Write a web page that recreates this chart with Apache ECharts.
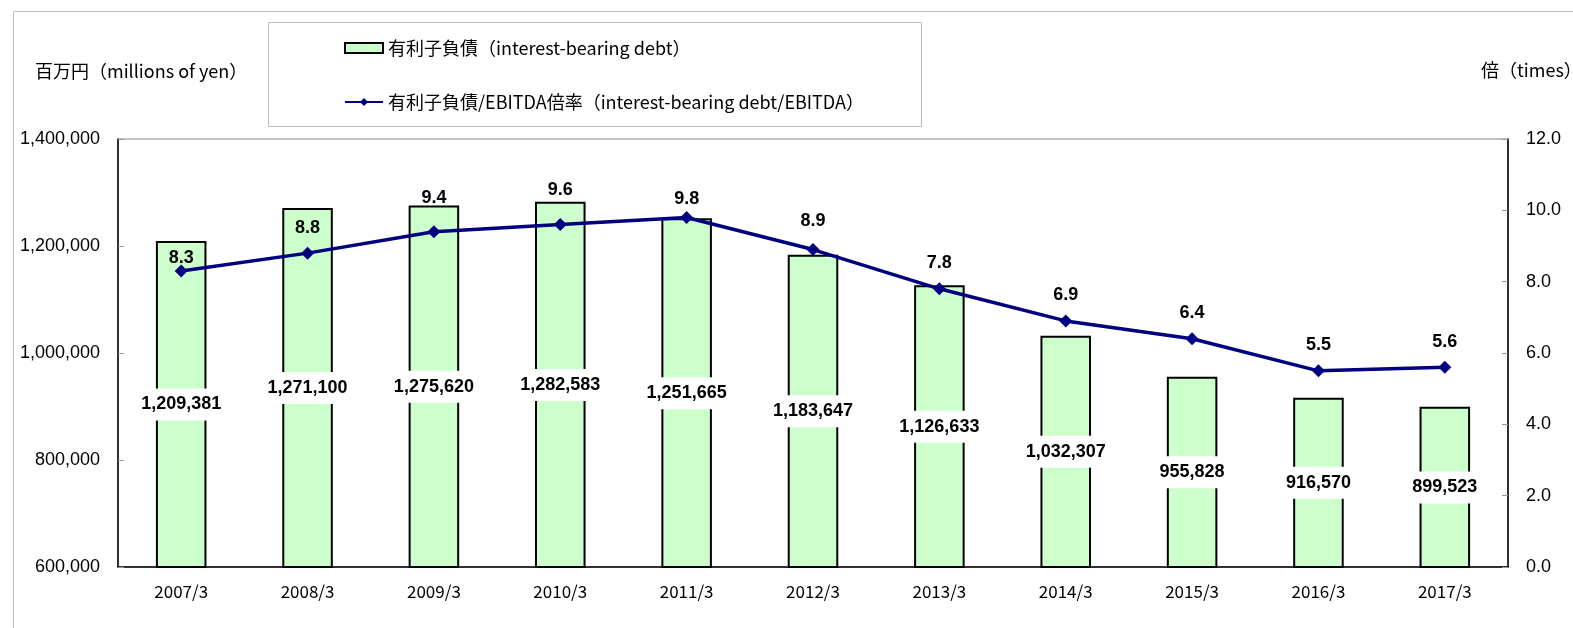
<!DOCTYPE html>
<html>
<head>
<meta charset="utf-8">
<script src="https://cdn.jsdelivr.net/npm/echarts@6/dist/echarts.min.js"></script>
<style>
  html, body { margin: 0; padding: 0; background: #fff; }
  #main { width: 1573px; height: 628px; }
</style>
</head>
<body>
<div id="main"></div>
<script>
// data
var years = ["2007/3", "2008/3", "2009/3", "2010/3", "2011/3", "2012/3", "2013/3", "2014/3", "2015/3", "2016/3", "2017/3"];
var debt = [1209381, 1271100, 1275620, 1282583, 1251665, 1183647, 1126633, 1032307, 955828, 916570, 899523];
var ratio = [8.3, 8.8, 9.4, 9.6, 9.8, 8.9, 7.8, 6.9, 6.4, 5.5, 5.6];
// 倍率ラベルの上下ずらし (px)
var ratioLabelShift = [13, 0, -8, -9, 7, -3, 0, 0, 0, 0, 0];
var debtName = "有利子負債（interest-bearing debt）";
var ratioName = "有利子負債/EBITDA倍率（interest-bearing debt/EBITDA）";

var jp = "'Noto Sans CJK JP', sans-serif";
var num = "'Liberation Sans', Arial, sans-serif";

function comma(v) {
  return String(v).replace(/\B(?=(\d{3})+(?!\d))/g, ",");
}

var ratioData = ratio.map(function (v, i) {
  return { value: v, label: { offset: [0, ratioLabelShift[i]] } };
});

var myChart = echarts.init(document.getElementById("main"));
var option = {
  animation: false,
  backgroundColor: "#fff",
  grid: {
    left: 118,
    right: 65,
    top: 139,
    bottom: 61,
    show: true,
    borderColor: "#888",
    borderWidth: 1,
  },
  legend: {
    orient: "vertical",
    left: 339,
    top: 32,
    itemWidth: 38,
    itemHeight: 10,
    itemGap: 32,
    textStyle: { fontFamily: jp, fontSize: 18, color: "#000", lineHeight: 22 },
    data: [
      { name: debtName, icon: "rect" },
      { name: ratioName },
    ],
  },
  graphic: [
    // 外枠
    {
      type: "rect",
      left: 11,
      top: 9,
      z: -10,
      shape: { width: 1600, height: 700 },
      style: { fill: "none", stroke: "#bbb", lineWidth: 1 },
    },
    // 凡例の枠
    {
      type: "rect",
      left: 268,
      top: 22,
      z: -5,
      shape: { width: 653, height: 104 },
      style: { fill: "#fff", stroke: "#bbb", lineWidth: 1 },
    },
    {
      type: "text",
      left: 35,
      top: 62,
      style: { text: "百万円（millions of yen）", font: "18px " + jp, fill: "#000" },
    },
    {
      type: "text",
      left: 1481,
      top: 61,
      style: { text: "倍（times）", font: "18px " + jp, fill: "#000" },
    },
  ],
  xAxis: {
    type: "category",
    data: years,
    axisLine: { lineStyle: { color: "#000", width: 1.5 } },
    axisTick: { inside: true, length: 5, lineStyle: { color: "#999" } },
    axisLabel: { fontFamily: jp, fontSize: 17, color: "#000", margin: 16 },
  },
  yAxis: [
    {
      type: "value",
      min: 600000,
      max: 1400000,
      interval: 200000,
      axisLine: { show: true, lineStyle: { color: "#000", width: 1.5 } },
      axisTick: { show: true, inside: true, length: 6, lineStyle: { color: "#999" } },
      splitLine: { show: false },
      axisLabel: {
        fontFamily: num,
        fontSize: 18,
        color: "#000",
        margin: 18,
        formatter: function (v) { return comma(v); },
      },
    },
    {
      type: "value",
      min: 0,
      max: 12,
      interval: 2,
      position: "right",
      axisLine: { show: true, lineStyle: { color: "#000", width: 1.5 } },
      axisTick: { show: true, inside: true, length: 6, lineStyle: { color: "#999" } },
      splitLine: { show: false },
      axisLabel: {
        fontFamily: num,
        fontSize: 18,
        color: "#000",
        margin: 18,
        formatter: function (v) { return v.toFixed(1); },
      },
    },
  ],
  series: [
    {
      name: debtName,
      type: "bar",
      data: debt,
      barWidth: "40%",
      itemStyle: { color: "#CCFFCC", borderColor: "#000", borderWidth: 2 },
      label: {
        show: true,
        position: "inside",
        formatter: function (p) { return comma(p.value); },
        fontFamily: num,
        fontWeight: "bold",
        fontSize: 18,
        color: "#000",
        backgroundColor: "#fff",
        padding: [7, 3],
      },
    },
    {
      name: ratioName,
      type: "line",
      yAxisIndex: 1,
      data: ratioData,
      symbol: "diamond",
      symbolSize: [13, 13],
      lineStyle: { color: "#000080", width: 3.5 },
      itemStyle: { color: "#000080" },
      label: {
        show: true,
        position: "top",
        distance: 10,
        formatter: function (p) { return p.value.toFixed(1); },
        fontFamily: num,
        fontWeight: "bold",
        fontSize: 18,
        color: "#000",
      },
      z: 5,
    },
  ],
};
myChart.setOption(option);
</script>
</body>
</html>
